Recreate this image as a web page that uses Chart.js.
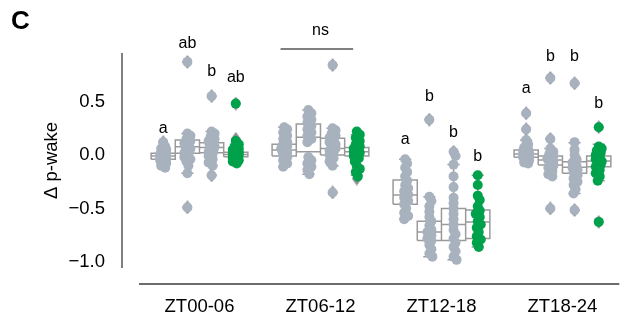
<!DOCTYPE html>
<html>
<head>
<meta charset="utf-8"/>
<title>Δ p-wake</title>
<style>
    html, body { margin: 0; padding: 0; background: #fff; }
    #chart { display: block; }
</style>
<script src="https://cdn.jsdelivr.net/npm/chart.js@4/dist/chart.umd.min.js"></script>
</head>
<body>
<canvas id="chart" width="626" height="324"></canvas>
<script>
// categories on the x axis, 4 boxes in each (3 grey, last one green)
const categories = ['ZT00-06', 'ZT06-12', 'ZT12-18', 'ZT18-24'];
const yTicks = [-1.0, -0.5, 0.0, 0.5];

// box statistics, [group][box]
const q1 = [
    [-0.04, 0.016, 0.02, -0.016],
    [-0.01, 0.03, 0.0, -0.01],
    [-0.46, -0.80, -0.80, -0.78],
    [-0.022, -0.094, -0.17, -0.11]
];
const medians = [
    [-0.01, 0.078, 0.07, 0.005],
    [0.047, 0.166, 0.06, 0.03],
    [-0.375, -0.72, -0.65, -0.625],
    [0.01, -0.047, -0.115, -0.056]
];
const q3 = [
    [0.016, 0.14, 0.115, 0.025],
    [0.10, 0.29, 0.156, 0.07],
    [-0.234, -0.62, -0.50, -0.515],
    [0.047, -0.009, -0.063, -0.01]
];
const whiskerLow = [
    [-0.12, -0.17, -0.10, -0.08],
    [-0.11, -0.18, -0.10, -0.19],
    [-0.60, -0.95, -0.98, -0.86],
    [-0.08, -0.20, -0.36, -0.24]
];
const whiskerHigh = [
    [0.08, 0.20, 0.22, 0.10],
    [0.26, 0.42, 0.25, 0.19],
    [-0.04, -0.39, -0.09, -0.19],
    [0.14, 0.06, 0.115, 0.10]
];
const outliers = [
    [[0.12], [0.87, -0.49], [0.55, -0.19], [0.48, 0.15]],
    [[], [], [0.84, -0.35], [-0.22]],
    [[], [0.33], [0.03], []],
    [[0.39, 0.24], [0.72, 0.15, -0.50], [0.67, -0.515], [0.26, -0.625]]
];

// individual animals, [group][box]
const points = [
    [
        [0.12, 0.08, 0.06, 0.05, 0.03, 0.02, 0.01, 0.0, -0.01, -0.02, -0.02, -0.03, -0.04, -0.05, -0.06, -0.08, -0.10, -0.12],
        [0.87, 0.20, 0.18, 0.15, 0.13, 0.11, 0.10, 0.08, 0.06, 0.05, 0.04, 0.02, 0.0, -0.02, -0.04, -0.06, -0.10, -0.17, -0.49],
        [0.55, 0.22, 0.20, 0.17, 0.15, 0.13, 0.12, 0.10, 0.08, 0.07, 0.05, 0.03, 0.01, -0.01, -0.04, -0.07, -0.10, -0.19],
        [0.48, 0.13, 0.10, 0.08, 0.06, 0.05, 0.04, 0.03, 0.02, 0.02, 0.01, 0.0, 0.0, -0.01, -0.02, -0.03, -0.04, -0.05, -0.06, -0.08]
    ],
    [
        [0.26, 0.24, 0.21, 0.18, 0.15, 0.12, 0.10, 0.08, 0.06, 0.05, 0.04, 0.02, 0.0, -0.02, -0.05, -0.08, -0.11],
        [0.42, 0.39, 0.36, 0.33, 0.30, 0.27, 0.24, 0.21, 0.18, 0.15, 0.12, -0.02, -0.05, -0.08, -0.11, -0.14, -0.18],
        [0.84, 0.25, 0.23, 0.20, 0.18, 0.16, 0.14, 0.12, 0.10, 0.08, 0.06, 0.04, 0.02, 0.0, -0.03, -0.06, -0.10, -0.35],
        [0.22, 0.19, 0.16, 0.13, 0.10, 0.08, 0.06, 0.04, 0.03, 0.02, 0.01, -0.01, -0.03, -0.06, -0.10, -0.13, -0.16, -0.20]
    ],
    [
        [-0.04, -0.08, -0.12, -0.16, -0.20, -0.24, -0.28, -0.31, -0.34, -0.37, -0.40, -0.43, -0.46, -0.50, -0.54, -0.57, -0.60],
        [0.33, -0.39, -0.43, -0.48, -0.53, -0.58, -0.62, -0.66, -0.70, -0.72, -0.75, -0.78, -0.80, -0.84, -0.88, -0.92, -0.95],
        [0.03, -0.01, -0.09, -0.20, -0.30, -0.40, -0.45, -0.50, -0.55, -0.60, -0.65, -0.70, -0.74, -0.78, -0.82, -0.86, -0.90, -0.95, -0.98],
        [-0.19, -0.28, -0.38, -0.42, -0.48, -0.52, -0.55, -0.58, -0.62, -0.65, -0.68, -0.72, -0.76, -0.79, -0.82, -0.86]
    ],
    [
        [0.39, 0.24, 0.14, 0.10, 0.07, 0.05, 0.04, 0.03, 0.02, 0.01, 0.0, -0.01, -0.02, -0.03, -0.05, -0.07, -0.08],
        [0.72, 0.15, 0.06, 0.03, 0.01, -0.01, -0.03, -0.04, -0.05, -0.06, -0.08, -0.10, -0.12, -0.15, -0.18, -0.20, -0.50],
        [0.67, 0.12, 0.05, 0.0, -0.04, -0.07, -0.10, -0.12, -0.14, -0.16, -0.19, -0.22, -0.25, -0.28, -0.32, -0.36, -0.515],
        [0.26, 0.08, 0.06, 0.04, 0.02, 0.0, -0.02, -0.04, -0.06, -0.07, -0.09, -0.11, -0.14, -0.17, -0.20, -0.24, -0.625]
    ]
];

// significance letters and where they sit (in Δ p-wake units)
const letters = [['a', 'ab', 'b', 'ab'], [], ['a', 'b', 'b', 'b'], ['a', 'b', 'b', 'b']];
const letterY = [[0.25, 1.04, 0.78, 0.72], [], [0.14, 0.546, 0.209, -0.016], [0.625, 0.92, 0.92, 0.478]];
const nsLabel = 'ns';
const nsY = 1.16;
const nsLineY = 0.99;

const hueOffsets = [-0.3, -0.1, 0.1, 0.3];
const boxHalf = 0.1;
const capHalf = 0.05;
const FONT = "'Liberation Sans', Arial, sans-serif";
const GREY = '#a8b2be';
const GREEN = '#00a14b';

function boxLines() {
    const out = [];
    categories.forEach((c, g) => {
        hueOffsets.forEach((off, h) => {
            const cx = g + off;
            const gap = {x: cx, y: null};
            out.push(
                {x: cx - boxHalf, y: q1[g][h]}, {x: cx + boxHalf, y: q1[g][h]},
                {x: cx + boxHalf, y: q3[g][h]}, {x: cx - boxHalf, y: q3[g][h]},
                {x: cx - boxHalf, y: q1[g][h]}, gap,
                {x: cx - boxHalf, y: medians[g][h]}, {x: cx + boxHalf, y: medians[g][h]}, gap,
                {x: cx, y: q3[g][h]}, {x: cx, y: whiskerHigh[g][h]}, gap,
                {x: cx - capHalf, y: whiskerHigh[g][h]}, {x: cx + capHalf, y: whiskerHigh[g][h]}, gap,
                {x: cx, y: q1[g][h]}, {x: cx, y: whiskerLow[g][h]}, gap,
                {x: cx - capHalf, y: whiskerLow[g][h]}, {x: cx + capHalf, y: whiskerLow[g][h]}, gap
            );
        });
    });
    return out;
}

function flierPoints() {
    const out = [];
    categories.forEach((c, g) => {
        hueOffsets.forEach((off, h) => {
            outliers[g][h].forEach((v) => out.push({x: g + off, y: v}));
        });
    });
    return out;
}

// points at box centres first, spread sideways after layout
function stripPoints(green) {
    const out = [];
    categories.forEach((c, g) => {
        hueOffsets.forEach((off, h) => {
            if ((h === 3) !== green) return;
            points[g][h].forEach((v) => out.push({x: g + off, y: v, g: g, h: h}));
        });
    });
    return out;
}

// thin diamond like matplotlib's 'd' marker
const diamond = document.createElement('canvas');
diamond.width = 10;
diamond.height = 14;
(function () {
    const d = diamond.getContext('2d');
    d.fillStyle = '#878c93';
    d.beginPath();
    d.moveTo(5, 0);
    d.lineTo(10, 7);
    d.lineTo(5, 14);
    d.lineTo(0, 7);
    d.closePath();
    d.fill();
})();

const decorations = {
    id: 'decorations',
    afterDraw(chart) {
        const {ctx, chartArea, scales: {x, y}} = chart;
        ctx.save();
        // offset spines
        ctx.strokeStyle = '#3c3c3c';
        ctx.lineWidth = 1.3;
        ctx.beginPath();
        ctx.moveTo(chartArea.left - 17, chartArea.top);
        ctx.lineTo(chartArea.left - 17, chartArea.bottom);
        ctx.moveTo(chartArea.left, chartArea.bottom + 16);
        ctx.lineTo(chartArea.right, chartArea.bottom + 16);
        ctx.stroke();

        // letters
        ctx.fillStyle = '#000';
        ctx.font = '16px ' + FONT;
        ctx.textAlign = 'center';
        ctx.textBaseline = 'middle';
        letters.forEach((row, g) => {
            row.forEach((t, h) => {
                ctx.fillText(t, x.getPixelForValue(g + hueOffsets[h]), y.getPixelForValue(letterY[g][h]));
            });
        });

        // ns bracket over the second group
        ctx.fillText(nsLabel, x.getPixelForValue(1), y.getPixelForValue(nsY));
        ctx.strokeStyle = '#555';
        ctx.lineWidth = 1.5;
        ctx.beginPath();
        ctx.moveTo(x.getPixelForValue(1 + hueOffsets[0] - 0.03), y.getPixelForValue(nsLineY));
        ctx.lineTo(x.getPixelForValue(1 + hueOffsets[3] - 0.03), y.getPixelForValue(nsLineY));
        ctx.stroke();

        // panel letter
        ctx.font = 'bold 26px ' + FONT;
        ctx.textAlign = 'left';
        ctx.textBaseline = 'alphabetic';
        ctx.fillText('C', 11, 29);
        ctx.restore();
    }
};

const ctx = document.getElementById('chart').getContext('2d');
const chart = new Chart(ctx, {
    type: 'scatter',
    data: {
        datasets: [
            {
                label: 'grey',
                data: stripPoints(false),
                backgroundColor: GREY,
                borderWidth: 0,
                pointRadius: 5,
                order: 0,
                clip: false
            },
            {
                label: 'green',
                data: stripPoints(true),
                backgroundColor: GREEN,
                borderWidth: 0,
                pointRadius: 5,
                order: 0,
                clip: false
            },
            {
                label: 'fliers',
                data: flierPoints(),
                pointStyle: diamond,
                order: 1,
                clip: false
            },
            {
                label: 'boxes',
                data: boxLines(),
                showLine: true,
                spanGaps: false,
                borderColor: '#9a9a9a',
                borderWidth: 1.5,
                pointRadius: 0,
                order: 2,
                clip: false
            }
        ]
    },
    options: {
        responsive: false,
        animation: false,
        events: [],
        layout: { padding: { top: 53, right: 0, left: 0, bottom: 0 } },
        plugins: {
            legend: { display: false },
            tooltip: { enabled: false }
        },
        scales: {
            x: {
                type: 'linear',
                min: -0.5,
                max: 3.47,
                grid: { display: false, drawTicks: false },
                border: { display: false },
                afterBuildTicks: (s) => { s.ticks = categories.map((c, i) => ({value: i})); },
                afterFit: (s) => { s.height = 56; },
                ticks: {
                    color: '#000',
                    padding: 28,
                    maxRotation: 0,
                    font: { family: FONT, size: 18.5 },
                    callback: (v) => categories[v]
                }
            },
            y: {
                min: -1.056,
                max: 0.953,
                grid: { display: false, drawTicks: false },
                border: { display: false },
                afterBuildTicks: (s) => { s.ticks = yTicks.map((v) => ({value: v})); },
                afterFit: (s) => { s.width = 139; },
                ticks: {
                    color: '#000',
                    padding: 34,
                    font: { family: FONT, size: 18.5 },
                    callback: (v) => (v < 0 ? '\u2212' : '') + Math.abs(v).toFixed(1)
                },
                title: {
                    display: true,
                    text: 'Δ p-wake',
                    color: '#000',
                    padding: { top: 41, bottom: 0 },
                    font: { family: FONT, size: 18.5 }
                }
            }
        }
    },
    plugins: [decorations]
});

// spread each box's points sideways so they don't sit on one line
function swarm(pointsIn) {
    const xs = chart.scales.x, ys = chart.scales.y;
    const pxPerUnit = xs.getPixelForValue(1) - xs.getPixelForValue(0);
    const minDist = 4.5, maxOff = 3;
    const byBox = {};
    pointsIn.forEach((p) => {
        const k = p.g + '_' + p.h;
        (byBox[k] = byBox[k] || []).push(p);
    });
    Object.values(byBox).forEach((list) => {
        const placed = [];
        list.slice().sort((a, b) => b.y - a.y).forEach((p) => {
            const py = ys.getPixelForValue(p.y);
            let best = 0, bestD = -1;
            for (let k = 0; k <= 2 * maxOff; k++) {
                const off = (k % 2 ? 1 : -1) * Math.ceil(k / 2);
                let d = Infinity;
                placed.forEach((q) => {
                    d = Math.min(d, Math.hypot(q.ox - off, q.py - py));
                });
                if (d >= minDist) { best = off; bestD = d; break; }
                if (d > bestD) { best = off; bestD = d; }
            }
            placed.push({ox: best, py: py});
            p.x = p.g + hueOffsets[p.h] + best / pxPerUnit;
        });
    });
}
swarm(chart.data.datasets[0].data);
swarm(chart.data.datasets[1].data);
chart.update('none');
</script>
</body>
</html>
